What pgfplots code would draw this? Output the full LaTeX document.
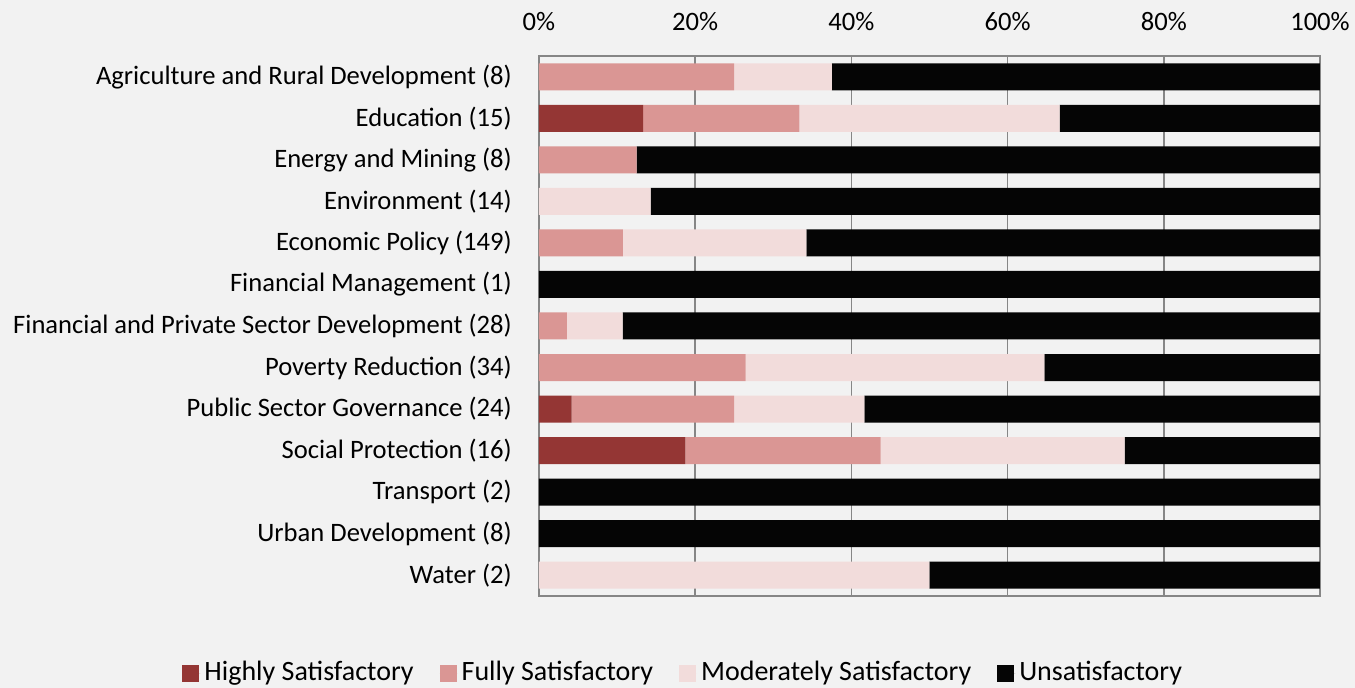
\documentclass[border=0pt]{standalone}
\usepackage{pgfplots}
\pgfplotsset{compat=1.18}
\usepackage{fontspec}
\setmainfont{Carlito}
\definecolor{bgc}{HTML}{F2F2F2}
\definecolor{hs}{HTML}{943634}
\definecolor{fs}{HTML}{DA9694}
\definecolor{ms}{HTML}{F2DCDB}
\definecolor{us}{HTML}{050505}
\definecolor{gridc}{HTML}{868686}
\begin{document}
\fontsize{13.3}{16}\selectfont
\begin{tikzpicture}
\path[use as bounding box, fill=bgc] (-269.5pt,-46pt) rectangle (408pt,298pt);
\begin{axis}[
  at={(0,0)}, anchor=south west,
  scale only axis, width=390.5pt, height=270pt,
  xbar stacked, bar width=13.5pt,
  xmin=0, xmax=100, ymin=-0.5, ymax=12.5,
  y dir=reverse,
  ytick={0,...,12},
  yticklabels={Agriculture and Rural Development (8),Education (15),Energy and Mining (8),Environment (14),Economic Policy (149),Financial Management (1),Financial and Private Sector Development (28),Poverty Reduction (34),Public Sector Governance (24),Social Protection (16),Transport (2),Urban Development (8),Water (2)},
  xtick={0,20,40,60,80,100},
  xticklabels={0\%,20\%,40\%,60\%,80\%,100\%},
  xticklabel pos=right,
  major tick length=0pt,
  xticklabel style={yshift=8pt, font=\fontsize{13.3}{16}\selectfont},
  yticklabel style={xshift=-9pt, font=\fontsize{13.3}{16}\selectfont},
  xmajorgrids, grid style={gridc, line width=0.8pt},
  axis line style={gridc, line width=0.8pt},
  legend columns=4,
  legend style={draw=none, fill=none, at={(0.186,-0.143)}, anchor=center,
    font=\fontsize{14}{17}\selectfont,
    /tikz/every even column/.append style={column sep=11pt}},
  legend image code/.code={\fill[#1] (0pt,-4.25pt) rectangle (8.5pt,4.25pt); \path (0pt,0pt) -- (9pt,0pt);},
  every axis plot/.append style={draw=none},
]
\addplot[fill=hs] coordinates {(0,0) (13.333,1) (0,2) (0,3) (0,4) (0,5) (0,6) (0,7) (4.167,8) (18.75,9) (0,10) (0,11) (0,12)};
\addplot[fill=fs] coordinates {(25,0) (20,1) (12.5,2) (0,3) (10.738,4) (0,5) (3.571,6) (26.471,7) (20.833,8) (25,9) (0,10) (0,11) (0,12)};
\addplot[fill=ms] coordinates {(12.5,0) (33.333,1) (0,2) (14.286,3) (23.490,4) (0,5) (7.143,6) (38.235,7) (16.667,8) (31.25,9) (0,10) (0,11) (50,12)};
\addplot[fill=us] coordinates {(62.5,0) (33.333,1) (87.5,2) (85.714,3) (65.772,4) (100,5) (89.286,6) (35.294,7) (58.333,8) (25,9) (100,10) (100,11) (50,12)};
\legend{Highly Satisfactory, Fully Satisfactory, Moderately Satisfactory, Unsatisfactory}
\end{axis}
\end{tikzpicture}
\end{document}
